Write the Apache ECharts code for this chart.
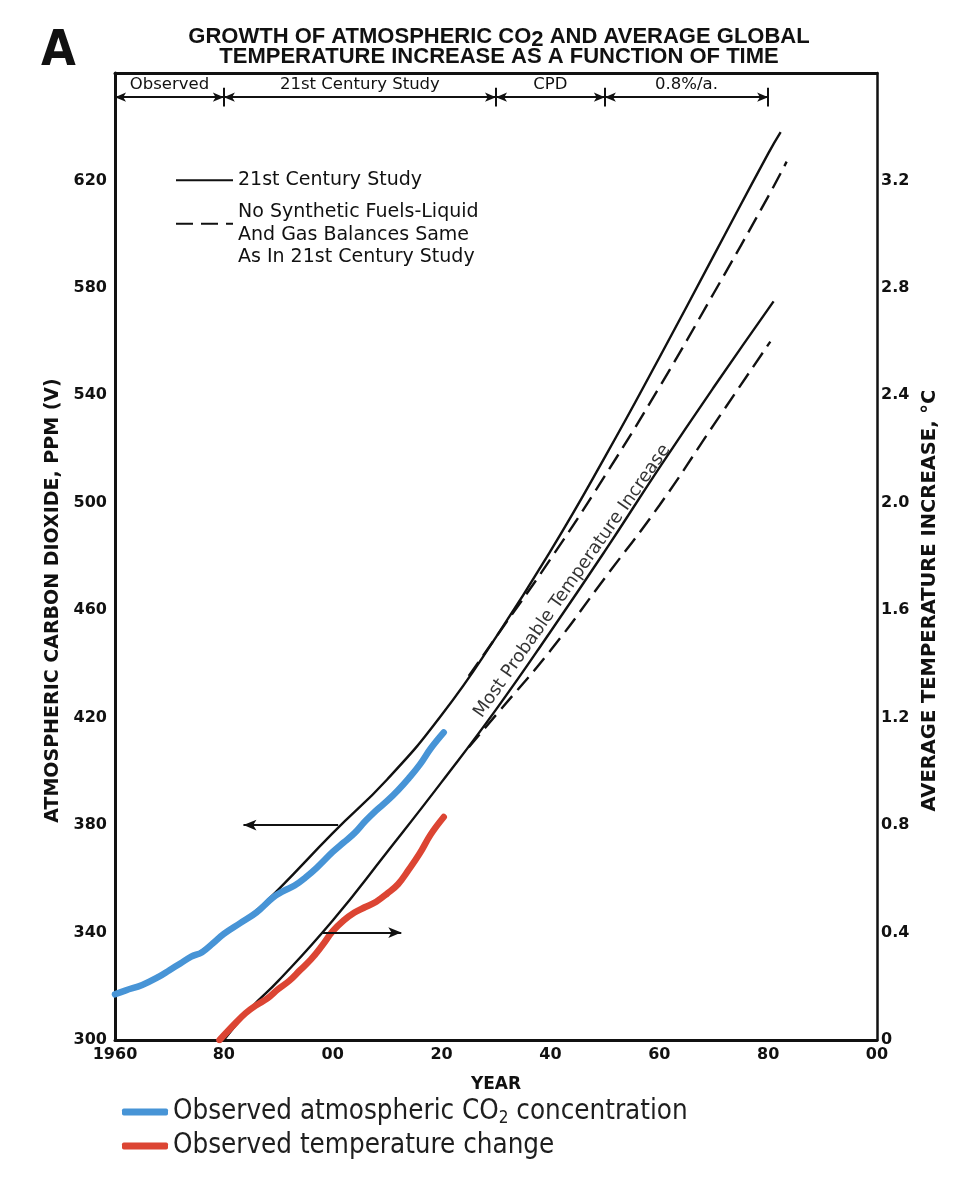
<!DOCTYPE html>
<html><head><meta charset="utf-8">
<script src="https://cdn.jsdelivr.net/npm/echarts@6/dist/echarts.min.js"></script>
<style>html,body{margin:0;padding:0;background:#fff}#c{width:960px;height:1184px}</style>
</head><body><div id="c"></div>
<script>
// ---------- data ----------
const obsCo2Years = [1960,1962,1965,1968,1970,1972,1974,1976,1978,1980,1983,1986,1989,1991,1993,1995,1997,2000,2002,2004,2006,2008,2010,2012,2014,2016,2018,2020.4];
const obsCo2      = [317,318.5,320.5,323.5,326,328.5,331,332.7,336,339.5,343.5,347.5,353,355.5,357.5,360.5,364,370,373.5,377,381.5,385.5,389,393,397.5,402.5,408.5,414.5];

const obsTempYears = [1979.2,1982,1984,1986,1988,1990,1992,1994,1996,1998,2000,2002,2004,2006,2008,2010,2012,2014,2016,2018,2020.4];
const obsTemp      = [0.00,0.06,0.10,0.13,0.155,0.19,0.22,0.26,0.30,0.35,0.405,0.445,0.475,0.495,0.515,0.545,0.58,0.635,0.695,0.765,0.83];

const studyCo2Years = [1975,1980,1985,1990,2000,2010,2020,2030,2040,2050,2060,2070,2080,2082.3];
const studyCo2      = [332,339,346.5,356,377,397,421,450,482,517,554,592,630,638];

const noSynCo2Years = [2025,2030,2040,2050,2060,2070,2080,2083.4];
const noSynCo2      = [435.5,450,479,510,543,578,614,627];

const studyTempYears = [1980,1985,1990,2000,2010,2020,2030,2040,2050,2060,2070,2081];
const studyTemp      = [0.0,0.12,0.22,0.445,0.70,0.96,1.23,1.52,1.82,2.13,2.43,2.75];

const noSynTempYears = [2025,2030,2040,2050,2060,2070,2080.4];
const noSynTemp      = [1.09,1.21,1.45,1.72,1.99,2.29,2.60];

const periodLabels = ['Observed','21st Century Study','CPD','0.8%/a.'];
const periodBounds = [1960,1980,2030,2050,2080];

const co2ArrowFrom = [2001,380], co2ArrowTo = [1983.6,380];
const tempArrowFrom = [1998.2,340], tempArrowTo = [2012.6,340];
const annotationAt = [2044,470.8];
const annotationText = 'Most Probable Temperature Increase';

const nameStudy = '21st Century Study';
const nameNoSyn = 'No Synthetic Fuels-Liquid\nAnd Gas Balances Same\nAs In 21st Century Study';
const nameObsCo2 = 'Observed atmospheric CO2 concentration';
const nameObsTemp = 'Observed temperature change';

// ---------- chart ----------
const pair = (xs, ys) => xs.map((x, i) => [x, ys[i]]);
const FONT = "'DejaVu Sans', sans-serif";
const NARROW = "'Liberation Sans Narrow','DejaVu Sans Condensed',sans-serif";
const INK = '#111';
const HEADER_LEVEL = 651;

const headerLines = periodLabels.map((lab, i) => [
  {coord: [periodBounds[i], HEADER_LEVEL], name: lab},
  {coord: [periodBounds[i + 1], HEADER_LEVEL]}
]);
const headerTicks = periodBounds.slice(1).map(b => [
  {coord: [b, HEADER_LEVEL - 3.5], symbol: 'none'},
  {coord: [b, HEADER_LEVEL + 3.5], symbol: 'none'}
]);
const pointerArrows = [
  [{coord: co2ArrowFrom, symbol: 'none'}, {coord: co2ArrowTo, symbol: 'arrow', symbolSize: [8, 13]}],
  [{coord: tempArrowFrom, symbol: 'none'}, {coord: tempArrowTo, symbol: 'arrow', symbolSize: [8, 13]}]
];

const chart = echarts.init(document.getElementById('c'));
const blackLine = (name, xs, ys, yIdx, dashed) => ({
  type: 'line', name, xAxisIndex: 0, yAxisIndex: yIdx,
  data: pair(xs, ys), smooth: 0.5,
  symbol: 'none', showSymbol: false, silent: true, z: 2,
  color: INK,
  lineStyle: {color: INK, width: 2.4, type: dashed ? [17, 8] : 'solid'}
});

chart.setOption({
  animation: false,
  backgroundColor: '#fff',
  title: [
    {
      text: 'GROWTH OF ATMOSPHERIC CO{s|2} AND AVERAGE GLOBAL\nTEMPERATURE INCREASE AS A FUNCTION OF TIME',
      left: 494, top: 22, textAlign: 'center',
      textStyle: {
        fontFamily: "'Liberation Sans', sans-serif", fontWeight: 'bold', fontSize: 22, color: INK, lineHeight: 20,
        rich: {s: {fontFamily: "'Liberation Sans', sans-serif", fontWeight: 'bold', fontSize: 22, color: INK, padding: [5, 0, 0, 0]}}
      }
    },
    {
      text: 'A', left: 36, top: 22,
      textStyle: {fontFamily: NARROW, fontWeight: 'bold', fontSize: 50, color: INK}
    }
  ],
  legend: [
    {
      data: [nameStudy, nameNoSyn],
      orient: 'vertical', left: 170, top: 164, itemGap: -12.75,
      itemWidth: 57, itemHeight: 12, selectedMode: false,
      itemStyle: {opacity: 0},
      formatter: n => n === nameNoSyn ? '\n' + n : n,
      textStyle: {fontFamily: FONT, fontSize: 19, lineHeight: 22.5, color: INK}
    },
    {
      data: [nameObsCo2, nameObsTemp],
      orient: 'vertical', left: 117, top: 1092, itemGap: 4,
      itemWidth: 46, itemHeight: 7, icon: 'roundRect', selectedMode: false,
      formatter: n => n.replace('CO2', 'CO{sub|2}'),
      textStyle: {
        fontFamily: NARROW, fontSize: 27.5, lineHeight: 30, color: '#1e1e1e',
        rich: {sub: {fontFamily: NARROW, fontSize: 17, lineHeight: 18, color: '#1e1e1e', padding: [13, 0, 0, 0]}}
      }
    }
  ],
  grid: {left: 115, right: 83, top: 73, bottom: 144, containLabel: false},
  xAxis: [
    {
      type: 'value', min: 1960, max: 2100, interval: 20, position: 'bottom',
      name: 'YEAR', nameLocation: 'middle', nameGap: 36,
      nameTextStyle: {fontFamily: FONT, fontWeight: 'bold', fontSize: 17, color: INK},
      axisLine: {show: true, lineStyle: {color: INK, width: 3}},
      axisTick: {show: false}, splitLine: {show: false},
      axisLabel: {
        margin: 7, fontFamily: FONT, fontWeight: 'bold', fontSize: 16, color: INK,
        formatter: v => v === 1960 ? '1960' : String(v % 100).padStart(2, '0')
      }
    },
    {
      type: 'value', min: 1960, max: 2100, interval: 20, position: 'top',
      axisLine: {show: true, lineStyle: {color: INK, width: 3}},
      axisTick: {show: false}, axisLabel: {show: false}, splitLine: {show: false}
    }
  ],
  yAxis: [
    {
      type: 'value', min: 300, max: 660, interval: 40, position: 'left',
      name: 'ATMOSPHERIC CARBON DIOXIDE, PPM (V)', nameLocation: 'middle', nameRotate: 90, nameGap: 50,
      nameTextStyle: {fontFamily: FONT, fontWeight: 'bold', fontSize: 19, color: INK, padding: [0, 88, 0, 0]},
      axisLine: {show: true, lineStyle: {color: INK, width: 3}},
      axisTick: {show: false}, splitLine: {show: false},
      axisLabel: {
        margin: 8, fontFamily: FONT, fontWeight: 'bold', fontSize: 16, color: INK,
        formatter: v => v >= 660 ? '' : String(v)
      }
    },
    {
      type: 'value', min: 0, max: 3.6, interval: 0.4, position: 'right',
      name: 'AVERAGE TEMPERATURE INCREASE, °C', nameLocation: 'middle', nameRotate: 90, nameGap: 40,
      nameTextStyle: {fontFamily: FONT, fontWeight: 'bold', fontSize: 19.5, color: INK, padding: [0, 88, 0, 0]},
      axisLine: {show: true, lineStyle: {color: INK, width: 2.5}},
      axisTick: {show: false}, splitLine: {show: false},
      axisLabel: {
        margin: 4, fontFamily: FONT, fontWeight: 'bold', fontSize: 16, color: INK,
        formatter: v => v === 0 ? '0' : (v > 3.3 ? '' : v.toFixed(1))
      }
    }
  ],
  series: [
    blackLine(nameStudy, studyCo2Years, studyCo2, 0, false),
    blackLine(nameNoSyn, noSynCo2Years, noSynCo2, 0, true),
    blackLine(nameStudy, studyTempYears, studyTemp, 1, false),
    blackLine(nameNoSyn, noSynTempYears, noSynTemp, 1, true),
    {
      type: 'line', name: nameObsCo2, yAxisIndex: 0, data: pair(obsCo2Years, obsCo2),
      smooth: 0.4, symbol: 'none', silent: true, z: 4,
      color: '#4794d6', lineStyle: {color: '#4794d6', width: 6.5, cap: 'round', join: 'round'}
    },
    {
      type: 'line', name: nameObsTemp, yAxisIndex: 1, data: pair(obsTempYears, obsTemp),
      smooth: 0.4, symbol: 'none', silent: true, z: 4,
      color: '#dc4533', lineStyle: {color: '#dc4533', width: 6.5, cap: 'round', join: 'round'}
    },
    {
      type: 'scatter', name: 'annotations', xAxisIndex: 0, yAxisIndex: 0,
      data: [annotationAt], symbolSize: 0, silent: true, z: 5,
      label: {
        show: true, position: 'inside', rotate: 55, formatter: annotationText,
        fontFamily: FONT, fontSize: 18, color: '#000'
      },
      markLine: {
        silent: true, symbol: ['arrow', 'arrow'], symbolSize: [7, 11],
        lineStyle: {color: INK, width: 2, type: 'solid'},
        label: {
          show: true, formatter: '{b}', position: 'insideMiddleTop', distance: 4,
          fontFamily: FONT, fontSize: 16.5, color: INK
        },
        emphasis: {disabled: true},
        data: [...headerLines, ...headerTicks, ...pointerArrows]
      }
    }
  ]
});
</script>
</body></html>
